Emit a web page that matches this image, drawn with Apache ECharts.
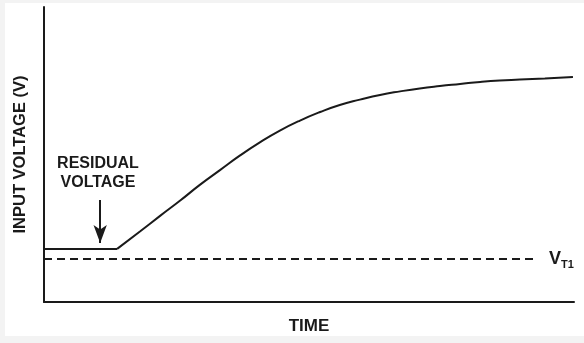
<!DOCTYPE html>
<html>
<head>
<meta charset="utf-8">
<script src="https://cdn.jsdelivr.net/npm/echarts@6/dist/echarts.min.js"></script>
<style>
  html, body { margin: 0; padding: 0; background: #f3f3f3; }
  #chart { position: absolute; left: 5px; top: 3px; width: 579px; height: 333px; background: #ffffff; }
</style>
</head>
<body>
<div id="chart"></div>
<script>
// time / voltage in arbitrary units (0..100)
const residual = [[0, 18], [13.8, 18]];
const riseTime = [13.8, 18.1, 21.9, 25.7, 29.4, 33.2, 37.0, 40.8, 44.5, 48.3, 52.1, 55.8, 59.6, 63.4, 67.2, 70.9, 74.7, 78.5, 82.3, 86.0, 89.8, 94.5, 99.8];
const riseVolt = [18.0, 23.9, 29.2, 34.4, 39.7, 44.7, 49.7, 54.2, 58.1, 61.5, 64.4, 66.8, 68.6, 70.2, 71.4, 72.4, 73.2, 73.9, 74.6, 75.1, 75.4, 75.8, 76.3];
const threshold = [[0, 14.6], [93.2, 14.6]];
const arrowFrom = [10.6, 34.6];
const arrowTo = [10.6, 20];

const myChart = echarts.init(document.getElementById('chart'));
const font = 'Liberation Sans, Arial, sans-serif';
const ink = '#1a1a1a';

myChart.setOption({
  animation: false,
  grid: { left: 39, right: 10, top: 4, bottom: 34, outerBoundsMode: 'none' },
  xAxis: {
    type: 'value',
    min: 0,
    max: 100,
    name: 'TIME',
    nameLocation: 'middle',
    nameGap: 16,
    nameTextStyle: { fontFamily: font, fontWeight: 'bold', fontSize: 17, color: ink, verticalAlign: 'top' },
    axisLine: { show: true, lineStyle: { color: ink, width: 2 } },
    axisTick: { show: false },
    axisLabel: { show: false },
    splitLine: { show: false },
  },
  yAxis: {
    type: 'value',
    min: 0,
    max: 100,
    name: 'INPUT VOLTAGE (V)',
    nameLocation: 'middle',
    nameGap: 15,
    nameTextStyle: { fontFamily: font, fontWeight: 'bold', fontSize: 16.5, color: ink },
    axisLine: { show: true, lineStyle: { color: ink, width: 2 } },
    axisTick: { show: false },
    axisLabel: { show: false },
    splitLine: { show: false },
  },
  series: [
    {
      type: 'line',
      data: residual,
      symbol: 'none',
      lineStyle: { color: ink, width: 2 },
      markLine: {
        silent: true,
        symbol: ['none', 'arrow'],
        symbolSize: [10, 18],
        label: { show: false },
        lineStyle: { color: ink, width: 2, type: 'solid' },
        data: [[{ coord: arrowFrom }, { coord: arrowTo }]],
      },
    },
    {
      type: 'line',
      data: riseTime.map((t, i) => [t, riseVolt[i]]),
      symbol: 'none',
      smooth: 0.5,
      lineStyle: { color: ink, width: 2 },
    },
    {
      type: 'line',
      data: threshold,
      symbol: 'none',
      lineStyle: { color: ink, width: 2, type: [8, 5] },
      endLabel: {
        show: true,
        distance: 11,
        formatter: '{v|V}{s|T1}',
        rich: {
          v: { fontFamily: font, fontWeight: 'bold', fontSize: 18, color: ink },
          s: { fontFamily: font, fontWeight: 'bold', fontSize: 11, color: ink, padding: [12, 0, 0, 0] },
        },
      },
    },
  ],
  graphic: [
    {
      type: 'text',
      x: 93,
      y: 151,
      style: {
        text: 'RESIDUAL\nVOLTAGE',
        align: 'center',
        fontFamily: font,
        fontWeight: 'bold',
        fontSize: 16,
        lineHeight: 19,
        fill: ink,
      },
    },
  ],
});
</script>
</body>
</html>
